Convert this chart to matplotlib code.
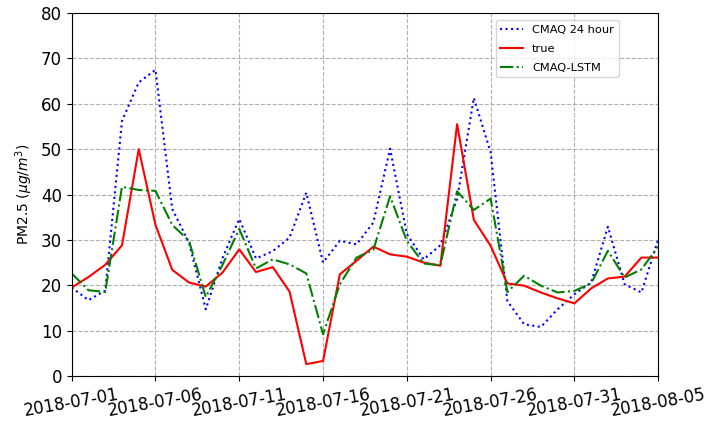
import numpy as np
import pandas as pd
import matplotlib
matplotlib.use("Agg")
import matplotlib.pyplot as plt
import matplotlib.dates as mdates

dates = pd.date_range("2018-07-01", "2018-08-05", freq="D")

cmaq_24h = [19.5, 16.7, 18.8, 56.2, 64.7, 67.5, 36.8, 29.4, 14.7, 26.0,
            34.6, 25.9, 27.5, 30.5, 40.4, 25.0, 29.8, 29.0, 33.8, 50.1,
            31.3, 25.7, 28.8, 39.0, 61.3, 49.3, 16.5, 11.4, 10.8, 14.7,
            18.0, 20.6, 32.9, 20.2, 18.4, 30.1]
true_vals = [19.5, 21.8, 24.5, 28.8, 50.0, 33.3, 23.4, 20.6, 19.7, 22.8,
             27.9, 22.9, 24.0, 18.6, 2.6, 3.3, 22.4, 25.4, 28.5, 26.8,
             26.3, 25.0, 24.3, 55.5, 34.4, 28.7, 20.4, 19.9, 18.4, 17.1,
             16.0, 19.3, 21.5, 21.9, 26.1, 26.1]
cmaq_lstm = [22.6, 18.9, 18.5, 41.7, 41.0, 40.8, 33.3, 29.8, 17.4, 24.5,
             32.4, 23.7, 25.7, 24.6, 22.6, 9.2, 20.2, 26.1, 27.8, 39.6,
             29.8, 24.8, 24.4, 40.7, 36.6, 39.1, 18.5, 22.1, 19.9, 18.4,
             18.75, 20.4, 27.6, 21.7, 23.5, 28.5]

fig = plt.figure(figsize=(7.1, 4.21), dpi=100)
ax = fig.add_axes([0.101, 0.107, 0.826, 0.862])

ax.plot(dates, cmaq_24h, ":", color="blue", lw=1.5, label="CMAQ 24 hour")
ax.plot(dates, true_vals, "-", color="red", lw=1.5, label="true")
ax.plot(dates, cmaq_lstm, "-.", color="green", lw=1.5, label="CMAQ-LSTM")

ax.set_xlim(dates[0], dates[-1])
ax.set_ylim(0, 80)
ax.set_yticks(range(0, 81, 10))
ax.set_xticks(pd.date_range("2018-07-01", "2018-08-05", freq="5D"))
ax.xaxis.set_major_formatter(mdates.DateFormatter("%Y-%m-%d"))
plt.setp(ax.get_xticklabels(), rotation=10, fontsize=12)
plt.setp(ax.get_yticklabels(), fontsize=12)
ax.set_ylabel("PM2.5 ($\\mu g/m^3$)", fontsize=10)
ax.grid(True, linestyle="--", color="#b0b0b0", lw=0.8)
ax.legend(loc="upper left", bbox_to_anchor=(0.723, 0.981), borderaxespad=0,
          fontsize=8.2, handlelength=2.0, labelspacing=0.8)

fig.savefig("out.png", dpi=100)
